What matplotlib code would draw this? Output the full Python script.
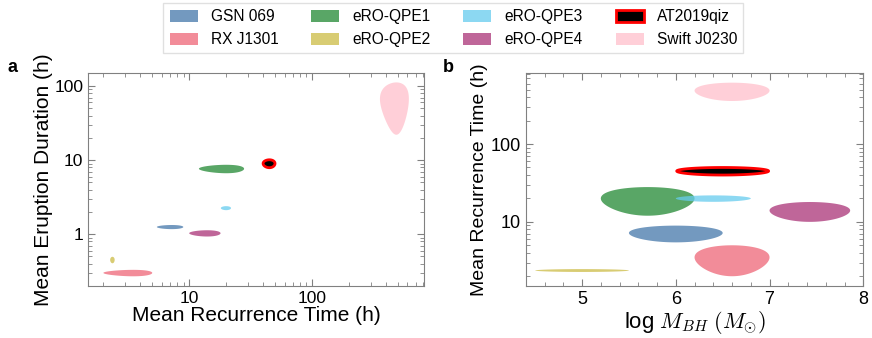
import numpy as np
import matplotlib
matplotlib.use('Agg')
import matplotlib.pyplot as plt
from matplotlib.patches import Patch
from matplotlib.ticker import MultipleLocator

plt.rcParams['font.family'] = ['Liberation Sans', 'DejaVu Sans']
plt.rcParams['mathtext.fontset'] = 'cm'

# sources and their measured values (centre, 1-sigma)
names = ['GSN 069', 'RX J1301', 'eRO-QPE1', 'eRO-QPE2',
         'eRO-QPE3', 'eRO-QPE4', 'AT2019qiz', 'Swift J0230']
colors = ['#4477AA', '#EE6677', '#228833', '#CCBB44',
          '#66CCEE', '#AA3377', 'black', 'pink']
log_mbh = [6.0, 6.6, 5.7, 5.0, 6.4, 7.43, 6.5, 6.6]
log_mbh_err = [0.5, 0.4, 0.5, 0.5, 0.4, 0.43, 0.49, 0.4]
t_rec = [7.2, 3.5, 20.0, 2.37, 20.0, 14.0, 45.0, 487.0]
t_rec_err = [1.75, 1.5, 8.0, 0.1, 1.9, 4.0, 5.0, 129.0]
t_dur = [1.25, 0.30, 7.65, 0.45, 2.25, 1.03, 9.0, 67.0]
t_dur_err = [0.08, 0.03, 1.0, 0.045, 0.14, 0.1, 1.1, 45.0]


def ellipse(ax, x, y, dx, dy, name, color):
    t = np.linspace(0, 2 * np.pi, 300)
    xs = x + dx * np.cos(t)
    ys = y + dy * np.sin(t)
    if name == 'AT2019qiz':
        ax.fill(xs, ys, facecolor='black', edgecolor='red', lw=2.0, zorder=3)
    else:
        ax.fill(xs, ys, facecolor=color, edgecolor='none', alpha=0.75, zorder=2)


def style(ax):
    ax.tick_params(which='both', direction='in', top=True, right=True,
                   colors='0.5', labelcolor='black')
    ax.tick_params(which='major', length=5, width=0.8)
    ax.tick_params(which='minor', length=3, width=0.6)
    for s in ax.spines.values():
        s.set_color('0.5')
        s.set_linewidth(0.8)


fig = plt.figure(figsize=(8.72, 3.38), dpi=100)
ax1 = fig.add_axes([0.101, 0.154, 0.385, 0.630])
ax2 = fig.add_axes([0.603, 0.154, 0.387, 0.630])

for i in range(len(names)):
    ellipse(ax1, t_rec[i], t_dur[i], t_rec_err[i], t_dur_err[i], names[i], colors[i])
    ellipse(ax2, log_mbh[i], t_rec[i], log_mbh_err[i], t_rec_err[i], names[i], colors[i])

ax1.set_xscale('log')
ax1.set_yscale('log')
ax1.set_xlim(1.5, 815)
ax1.set_ylim(0.2, 150)
ax1.set_xticks([10, 100])
ax1.set_xticklabels(['10', '100'])
ax1.set_yticks([1, 10, 100])
ax1.set_yticklabels(['1', '10', '100'])
ax1.tick_params(labelsize=12.5)
ax1.set_xlabel('Mean Recurrence Time (h)', fontsize=15, labelpad=0)
ax1.set_ylabel('Mean Eruption Duration (h)', fontsize=15, labelpad=1)
style(ax1)

ax2.set_yscale('log')
ax2.set_xlim(4.4, 8)
ax2.set_ylim(1.5, 820)
ax2.set_yticks([10, 100])
ax2.set_yticklabels(['10', '100'])
ax2.xaxis.set_major_locator(MultipleLocator(1))
ax2.xaxis.set_minor_locator(MultipleLocator(0.2))
ax2.tick_params(labelsize=13)
ax2.set_xlabel(r'log $M_{BH}$ $(M_{\odot})$', fontsize=16, labelpad=1)
ax2.set_ylabel('Mean Recurrence Time (h)', fontsize=14, labelpad=2)
style(ax2)

fig.text(0.009, 0.787, 'a', fontsize=13, fontweight='bold')
fig.text(0.508, 0.787, 'b', fontsize=13, fontweight='bold')

handles = []
for i in range(len(names)):
    if names[i] == 'AT2019qiz':
        handles.append(Patch(facecolor='black', edgecolor='red', lw=2, label=names[i]))
    else:
        handles.append(Patch(facecolor=colors[i], alpha=0.75, label=names[i]))
fig.legend(handles=handles, loc='upper center', bbox_to_anchor=(0.52, 1.014),
           ncol=4, fontsize=11.2, columnspacing=2.1, handlelength=1.8,
           handleheight=0.8, handletextpad=0.85, fancybox=False,
           edgecolor='0.85', borderpad=0.4)

fig.savefig('out.png', dpi=100)
